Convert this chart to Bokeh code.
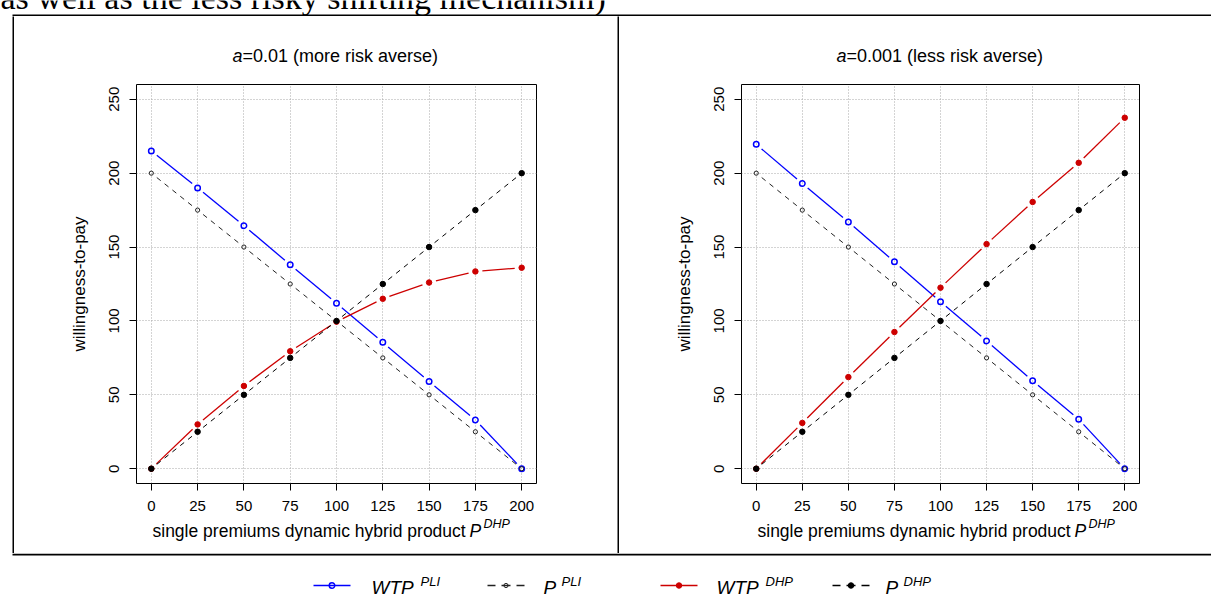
import math
from bokeh.plotting import figure
from bokeh.layouts import row, column
from bokeh.models import Range1d, FixedTicker, Spacer
from bokeh.embed import file_html
from bokeh.resources import INLINE
from bokeh.core.properties import value

# ---------------- data ----------------
premiums = [0, 25, 50, 75, 100, 125, 150, 175, 200]
p_pli = [200, 175, 150, 125, 100, 75, 50, 25, 0]
p_dhp = [0, 25, 50, 75, 100, 125, 150, 175, 200]
wtp_pli_a01 = [215, 190, 164.5, 138, 112, 85.5, 59, 33, 0]
wtp_dhp_a01 = [0, 30, 56, 79.5, 99.5, 115, 126, 133.5, 136]
wtp_pli_a001 = [219.5, 193, 167, 140, 113, 86.5, 59.5, 33.5, 0]
wtp_dhp_a001 = [0, 31, 62, 92.5, 122.5, 152, 180.5, 207, 237.5]
x_ticks = [0, 25, 50, 75, 100, 125, 150, 175, 200]
y_ticks = [0, 50, 100, 150, 200, 250]
title_symbol = "a"
title_rest = ["=0.01 (more risk averse)", "=0.001 (less risk averse)"]
x_label = "single premiums dynamic hybrid product"
x_label_symbol = "P"
x_label_sup = "DHP"
y_label = "willingness-to-pay"
heading = "as well as the less risky shifting mechanism)"
legend_main = ["WTP", "P", "WTP", "P"]
legend_sup = ["PLI", "PLI", "DHP", "DHP"]

# ---------------- styles ----------------
FONT = "Liberation Sans"
SERIF = "Liberation Serif"
BLUE = "#0000ff"
RED = "#cd0000"
BLACK = "#000000"
GREY = "#222222"
X_RANGE = (-8, 208)
Y_RANGE = (-10, 260)
GAP = 7.0
W_TOTAL = 1211
H_TOP, H_MID, H_BOT = 16, 537, 45
H_TITLE, H_PANEL, H_XLAB = 67, 431, 39
MB_LEFT, MB_TOP, MB_BOT = 122, 1, 31


def gapped(xs, ys, sx, sy, gap=GAP):
    x0, y0, x1, y1 = [], [], [], []
    for i in range(len(xs) - 1):
        dx = (xs[i + 1] - xs[i]) * sx
        dy = (ys[i + 1] - ys[i]) * sy
        L = math.hypot(dx, dy)
        if L <= 2 * gap:
            continue
        f = gap / L
        x0.append(xs[i] + (xs[i + 1] - xs[i]) * f)
        y0.append(ys[i] + (ys[i + 1] - ys[i]) * f)
        x1.append(xs[i + 1] - (xs[i + 1] - xs[i]) * f)
        y1.append(ys[i + 1] - (ys[i + 1] - ys[i]) * f)
    return x0, y0, x1, y1


def blank(width, height, xr, yr, bg="white", **borders):
    b = dict(min_border_left=0, min_border_right=0, min_border_top=0, min_border_bottom=0)
    b.update(borders)
    f = figure(width=width, height=height, x_range=Range1d(*xr), y_range=Range1d(*yr),
               output_backend="svg", toolbar_location=None,
               x_axis_type=None, y_axis_type=None, **b)
    f.grid.visible = False
    f.outline_line_color = None
    f.background_fill_color = bg
    f.border_fill_color = bg
    return f


def txt(fig, x, y, s, size, style="normal", font=FONT, align="left"):
    fig.text(x=[x], y=[y], text=[s], text_font=value(font), text_font_size=size,
             text_font_style=style, text_baseline="middle", text_align=align,
             text_color="black")


def make_panel(width, mb_right, rest, wtp_pli, wtp_dhp, title_x):
    frame_w = width - MB_LEFT - mb_right
    frame_h = H_PANEL - MB_TOP - MB_BOT
    sx = frame_w / (X_RANGE[1] - X_RANGE[0])
    sy = frame_h / (Y_RANGE[1] - Y_RANGE[0])

    # ---- title strip (pixel units, x from frame left, y down from strip top)
    t = blank(width, H_TITLE, (0, frame_w), (H_TITLE, 0),
              min_border_left=MB_LEFT, min_border_right=mb_right)
    txt(t, title_x, 39.3, title_symbol, "18px", style="italic")
    txt(t, title_x + 10, 39.3, rest, "18px")

    # ---- plot
    p = figure(width=width, height=H_PANEL,
               x_range=Range1d(*X_RANGE), y_range=Range1d(*Y_RANGE),
               output_backend="svg", toolbar_location=None,
               min_border_left=MB_LEFT, min_border_right=mb_right,
               min_border_top=MB_TOP, min_border_bottom=MB_BOT)
    p.background_fill_color = "white"
    p.border_fill_color = "white"
    p.outline_line_color = "black"
    p.outline_line_width = 1

    p.xaxis.ticker = FixedTicker(ticks=x_ticks)
    p.yaxis.ticker = FixedTicker(ticks=y_ticks)
    p.xgrid.ticker = FixedTicker(ticks=x_ticks)
    p.ygrid.ticker = FixedTicker(ticks=y_ticks)
    p.grid.grid_line_color = "#a8a8a8"
    p.grid.grid_line_dash = "1 2"
    p.grid.grid_line_width = 1

    p.axis.axis_line_color = None
    p.axis.major_tick_out = 7
    p.axis.major_tick_in = 0
    p.axis.major_tick_line_color = "black"
    p.axis.minor_tick_line_color = None
    p.axis.major_label_text_font = FONT
    p.axis.major_label_text_font_size = "15px"
    p.axis.major_label_text_color = "black"
    p.xaxis.major_label_standoff = 10
    p.yaxis.major_label_standoff = 10
    p.yaxis.major_label_orientation = "vertical"
    p.yaxis.axis_label = y_label
    p.yaxis.axis_label_text_font = FONT
    p.yaxis.axis_label_text_font_size = "17px"
    p.yaxis.axis_label_text_font_style = "normal"
    p.yaxis.axis_label_text_color = "black"
    p.yaxis.axis_label_standoff = 18

    series = [
        (wtp_pli, BLUE, "solid", 1.3, dict(marker="circle", size=5.5, fill_color=None, line_color=BLUE, line_width=1.5)),
        (p_pli, GREY, "5 5", 1.0, dict(marker="circle", size=4.2, fill_color=None, line_color=GREY, line_width=1)),
        (wtp_dhp, RED, "solid", 1.3, dict(marker="circle", size=5.5, fill_color=RED, line_color=RED, line_width=1)),
        (p_dhp, BLACK, "5 5", 1.0, dict(marker="circle", size=5.5, fill_color=BLACK, line_color=BLACK, line_width=1)),
    ]
    for ys, col, dash, lw, mk in series:
        x0, y0, x1, y1 = gapped(premiums, ys, sx, sy)
        p.segment(x0=x0, y0=y0, x1=x1, y1=y1, line_color=col, line_width=lw, line_dash=dash)
        p.scatter(x=premiums, y=ys, **mk)

    # ---- x-label strip (pixel units, x from frame left, y down from strip top)
    xl = blank(width, H_XLAB, (0, frame_w), (H_XLAB, 0),
               min_border_left=MB_LEFT, min_border_right=mb_right)
    txt(xl, 16, 16.3, x_label, "17.5px")
    txt(xl, 333, 16.3, x_label_symbol, "17.5px", style="italic")
    txt(xl, 347, 9.5, x_label_sup, "12.5px", style="italic")

    return column(t, p, xl)


# top strip: heading text (cut at the top, as in the source page) + top border of the box
top = blank(W_TOTAL, H_TOP, (0, W_TOTAL), (H_TOP, 0))
top.text(x=[0], y=[0.5], text=[heading], text_font=value(SERIF), text_font_size="34px",
         text_baseline="middle", text_align="left", text_color="black", y_offset=-3.5)
top.quad(left=[12], right=[W_TOTAL], bottom=[16], top=[14], fill_color="black", line_color=None)

# middle row: box left border, two panels and the divider
left_panel = make_panel(603, 81, title_rest[0], wtp_pli_a01, wtp_dhp_a01, 96)
right_panel = make_panel(592, 72, title_rest[1], wtp_pli_a001, wtp_dhp_a001, 95)
mid = row(Spacer(width=12, height=H_MID),
          blank(2, H_MID, (0, 2), (0, H_MID), bg="black"),
          left_panel,
          blank(2, H_MID, (0, 2), (0, H_MID), bg="black"),
          right_panel)

# bottom strip: bottom border + legend
bot = blank(W_TOTAL, H_BOT, (0, W_TOTAL), (598, 553))
bot.quad(left=[12], right=[W_TOTAL], bottom=[555], top=[553], fill_color="black", line_color=None)
leg_line_x = [313, 487, 660, 832]
leg_text_x = [371, 543, 716, 885]
leg_sup_x = [420, 561, 765, 903]
leg_cols = [BLUE, GREY, RED, BLACK]
leg_dash = ["solid", "8 6 9 6 8", "solid", "8 6 9 6 8"]
leg_markers = [
    dict(size=5.5, fill_color=None, line_color=BLUE, line_width=1.5),
    dict(size=4.2, fill_color=None, line_color=GREY, line_width=1),
    dict(size=5.5, fill_color=RED, line_color=RED, line_width=1),
    dict(size=5.5, fill_color=BLACK, line_color=BLACK, line_width=1),
]
LY = 585
for i in range(4):
    bot.segment(x0=[leg_line_x[i]], y0=[LY], x1=[leg_line_x[i] + 37], y1=[LY],
                line_color=leg_cols[i], line_width=1.3, line_dash=leg_dash[i])
    bot.scatter(x=[leg_line_x[i] + 18.5], y=[LY], marker="circle", **leg_markers[i])
    txt(bot, leg_text_x[i], 587.2, legend_main[i], "19px", style="italic")
    txt(bot, leg_sup_x[i], 580.5, legend_sup[i], "13px", style="italic")

layout = column(top, mid, bot)
open("out.html", "w").write(file_html(layout, INLINE))
